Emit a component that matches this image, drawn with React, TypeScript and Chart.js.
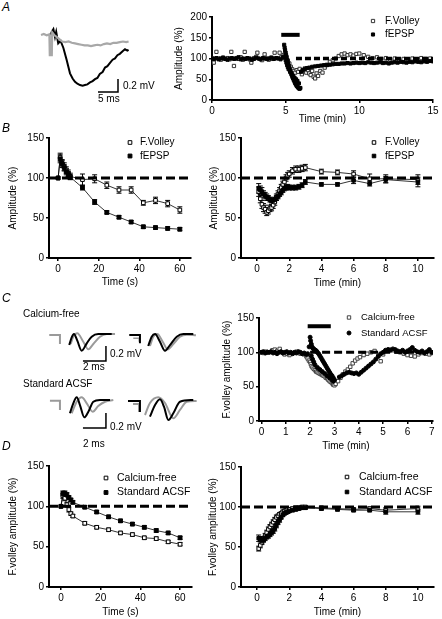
import React, { useEffect, useRef } from "react";
import { Chart, registerables } from "chart.js";
Chart.register(...registerables);

const FONT = '"Liberation Sans", Arial, Helvetica, sans-serif';

// ================= DATA =================
// Panel A (right): time (min) / amplitude (%)
const aVolleyT = [0.05,0.12,0.3,0.45,0.6,0.75,0.9,1.05,1.2,1.31,1.49,1.65,1.8,1.95,2.1,2.22,2.4,2.55,2.67,2.85,3.0,3.08,3.25,3.4,3.57,3.7,3.85,4.0,4.1,4.25,4.4,4.59,4.7,4.85,4.95,
  5.05,5.15,5.25,5.35,5.45,5.55,5.65,5.75,5.85,5.95,
  6.1,6.2,6.3,6.4,6.5,6.6,6.7,6.8,6.9,7.0,7.1,7.2,7.35,7.5,7.65,7.8,8.0,8.2,8.4,8.6,8.8,9.0,9.2,9.4,9.6,9.8,10.0,10.3,10.6,10.9,11.2,11.5,11.8,12.1,12.4,12.7,13.0,13.3,13.6,13.9,14.2,14.5,14.8];
const aVolleyY = [100,90,116,100,97,102,99,101,98,116,82,101,99,103,97,116,100,98,90,101,104,114,99,96,110,100,97,102,99,114,101,114,103,108,112,
  104,95,88,80,74,70,66,72,68,75,
  62,70,76,66,72,64,60,70,56,52,64,58,70,66,78,85,92,96,100,106,110,112,108,110,107,111,112,108,104,101,103,99,101,97,100,96,99,97,100,98,101,99,100];
const aEpspT = [0,0.15,0.3,0.45,0.6,0.75,0.9,1.05,1.2,1.35,1.5,1.65,1.8,1.95,2.1,2.25,2.4,2.55,2.7,2.85,3.0,3.15,3.3,3.45,3.6,3.75,3.9,4.05,4.2,4.35,4.5,4.65,4.8,
  4.85,4.9,4.93,4.96,5.0,5.03,5.06,5.1,5.13,5.16,5.2,5.25,5.3,5.35,5.4,5.45,5.5,5.55,5.6,5.65,5.7,5.75,5.8,5.85,5.9,5.95,6.0,
  5.0,5.05,5.1,5.15,5.2,5.3,5.4,5.5,5.6,5.7,5.8,5.9,
  6.05,6.15,6.3,6.45,6.6,6.8,7.0,7.2,7.4,7.6,7.8,8.0,8.2,8.4,8.6,8.8,9.0,9.2,9.4,9.6,9.8,10.0,10.2,10.4,10.6,10.8,11.0,11.2,11.4,11.6,11.8,12.0,12.2,12.4,12.6,12.8,13.0,13.2,13.4,13.6,13.8,14.0,14.2,14.4,14.6,14.8,15.0];
const aEpspY = [100,99,101,98,100,102,99,97,100,101,99,100,103,98,100,99,101,100,97,99,102,100,98,101,100,99,100,102,99,101,100,98,102,
  104,133,126,120,114,108,103,97,92,88,83,78,72,66,61,56,52,48,44,40,37,34,32,30,28,27,29,
  96,90,84,79,74,68,62,58,54,50,46,40,
  68,72,75,77,78,80,81,82,83,84,84,85,86,87,87,88,88,89,88,89,90,89,90,89,91,90,89,90,91,89,90,88,90,91,90,92,91,90,92,91,93,92,91,93,92,94,93];
const aRefX = [5.7, 15];
const aBarX = [4.7, 5.95];
const aBarLevel = 157;
const aXTicks = [0, 5, 10, 15];
const aYTicks = [0, 50, 100, 150, 200];

// Panel A (left) traces: [ms, mV]
const aTraceBlack = [[3.9,0],[4.2,0.05],[4.6,0.09],[5.0,-0.03],[5.3,0.05],[5.8,-0.13],[6.4,-0.09],[7.1,-0.2],[7.9,-0.38],[8.75,-0.59],[9.4,-0.67],[10.0,-0.72],[10.6,-0.75],[11.25,-0.77],[11.9,-0.78],[12.5,-0.77],[13.1,-0.76],[13.75,-0.73],[14.4,-0.71],[15.0,-0.68],[15.6,-0.66],[16.2,-0.6],[16.9,-0.57],[17.5,-0.5],[18.1,-0.48],[18.75,-0.43],[19.4,-0.38],[20.0,-0.36],[20.6,-0.31],[21.2,-0.29],[21.9,-0.25],[22.5,-0.22],[23.1,-0.24],[23.4,-0.23]];
const aTraceGray = [[1.5,0],[2.2,0.015],[2.9,-0.005],[3.6,0.01],[3.7,-0.31],[4.2,-0.31],[4.3,0.04],[4.8,0.0],[5.4,-0.03],[6.0,-0.06],[6.8,-0.1],[7.6,-0.11],[8.4,-0.1],[9.2,-0.12],[10.0,-0.13],[10.8,-0.14],[11.6,-0.15],[12.4,-0.16],[13.2,-0.16],[14.0,-0.17],[14.8,-0.16],[15.6,-0.15],[16.4,-0.16],[17.2,-0.14],[18.0,-0.13],[18.8,-0.14],[19.6,-0.12],[20.4,-0.12],[21.2,-0.11],[22.0,-0.1],[22.8,-0.11],[23.4,-0.1]];
const aScaleBar = [[15.75,-0.877],[20.75,-0.877],[20.75,-0.677]]; // 5 ms x 0.2 mV

// Panel B left: time (s)
const bLT = [0,1,2,3,4,5,6,12,18,24,30,36,42,48,54,60];
const bLVolley = [100,126,118,114,110,106,102,98,99,91,85,85,69,72,68,60];
const bLVolleyErr = [0,5,5,5,4,4,4,7,5,4,4,4,3,4,4,4];
const bLEpsp = [100,124,118,113,108,105,101,88,70,57,51,45,39,38,37,36];
const bLEpspErr = [0,5,4,4,4,3,3,3,3,2,2,2,2,2,2,2];
const bLRefX = [-4.5, 65.5];
const secTicks = [0, 20, 40, 60];
const pctTicks = [0, 50, 100, 150];

// Panel B right: time (min)
const bRT = [0.1,0.2,0.3,0.4,0.5,0.6,0.7,0.8,0.9,1.0,1.1,1.2,1.3,1.4,1.5,1.6,1.7,1.8,1.9,2.0,2.2,2.4,2.6,2.8,3.0,4,5,6,7,8,10];
const bRVolley = [83,74,67,63,61,57,59,62,63,66,70,76,80,84,88,92,95,100,103,105,109,111,111,112,113,108,107,105,99,99,98];
const bRVolleyErr = [6,5,5,5,5,4,4,4,4,4,4,4,4,4,4,4,4,4,4,4,4,4,4,4,4,3,3,4,6,5,6];
const bREpsp = [87,85,83,80,78,76,75,73,72,72,73,75,77,80,82,85,87,88,89,88,88,88,89,91,95,92,92,97,93,98,95];
const bREpspErr = [6,5,5,4,4,4,3,3,3,3,3,3,3,3,3,3,3,3,3,3,3,3,3,3,3,2,2,4,3,4,6];
const rRefX = [-1, 11];
const minTicks10 = [0, 2, 4, 6, 8, 10];

// Panel C right: time (min)
const cFreeT = [0.0,0.1,0.2,0.3,0.45,0.55,0.65,0.75,0.85,0.95,1.05,1.15,1.3,1.45,1.6,1.75,1.85,1.9,
  1.95,2.0,2.03,2.06,2.1,2.15,2.2,2.25,2.3,2.35,2.4,2.45,2.5,2.55,2.6,2.65,2.7,2.75,2.8,2.85,2.9,2.95,3.0,3.05,
  3.15,3.25,3.35,3.45,3.55,3.65,3.75,3.85,3.95,4.05,4.2,4.35,4.5,4.65,4.8,4.9,5.0,5.1,5.25,5.4,5.55,5.7,5.85,6.0,6.15,6.3,6.45,6.6,6.75,6.9,7.0];
const cFreeY = [100,99,101,100,103,104,102,105,100,97,98,96,99,101,98,97,94,91,
  88,86,83,80,78,76,74,72,71,70,69,68,67,66,65,63,62,60,58,57,55,53,52,54,
  58,63,68,72,75,79,84,88,91,93,96,98,100,102,95,87,97,102,104,103,101,100,98,96,95,94,97,99,98,97,99];
const cStdT = [0.0,0.08,0.16,0.24,0.32,0.4,0.48,0.56,0.64,0.72,0.8,0.88,0.96,1.04,1.12,1.2,1.28,1.36,1.44,1.52,1.6,1.68,1.76,1.84,1.9,
  1.96,2.0,2.02,2.05,2.08,2.11,2.14,2.18,2.22,2.26,2.3,2.35,2.4,2.45,2.5,2.55,2.6,2.65,2.7,2.75,2.8,2.85,2.9,2.95,3.0,
  2.05,2.1,2.15,2.2,2.3,2.4,2.5,2.6,2.7,2.8,2.9,2.95,
  3.2,3.3,3.4,3.5,3.6,3.7,3.8,3.9,4.0,4.1,4.2,4.3,4.4,4.5,4.6,4.7,4.8,4.9,5.0,5.1,5.2,5.3,5.4,5.5,5.6,5.7,5.8,5.9,6.0,6.1,6.2,6.3,6.4,6.5,6.6,6.7,6.8,6.9,7.0];
const cStdY = [100,101,99,100,100,101,99,100,98,100,101,99,100,101,99,100,98,100,99,101,100,98,99,97,98,
  108,122,117,112,108,106,105,104,103,102,100,98,95,92,89,86,83,80,77,74,71,68,66,63,60,
  95,90,86,82,78,75,72,69,66,63,60,58,
  64,66,68,70,71,70,69,70,68,71,74,77,80,83,86,90,94,98,100,103,104,103,105,104,102,101,103,100,102,104,107,103,101,100,102,99,101,104,100];
const cRefX = [2.0, 7.05];
const cBarX = [1.9, 2.85];
const cBarLevel = 138;
const cXTicks = [0, 1, 2, 3, 4, 5, 6, 7];

// Panel C left traces: [ms, mV]
const c1lGrayArt = [[0.37,-0.013],[1.3,-0.013],[1.3,-0.133]];
const c1lBlack = [[2.11,-0.147],[2.32,-0.044],[2.52,0],[2.81,-0.089],[3.19,-0.223],[3.63,-0.124],[4.06,-0.036],[4.63,0],[5.8,0]];
const c1lGray = [[2.23,-0.133],[2.46,-0.036],[2.81,0.009],[3.33,-0.103],[3.77,-0.204],[4.2,-0.133],[4.78,-0.036],[5.37,0],[6.09,0]];
const c1rBlackArt = [[0.37,-0.013],[1.3,-0.013],[1.3,-0.124]];
const c1rGrayArt = [[0.72,-0.057],[1.24,-0.057],[1.24,-0.103]];
const c1rBlack = [[2.02,-0.16],[2.32,-0.036],[2.61,0],[3.04,-0.103],[3.48,-0.223],[3.91,-0.147],[4.5,-0.036],[5.07,0],[5.94,0]];
const c1rGray = [[2.17,-0.16],[2.46,-0.036],[2.81,0],[3.28,-0.103],[3.71,-0.204],[4.2,-0.133],[4.78,-0.036],[5.37,-0.009],[6.17,-0.017]];
const c2lGrayArt = [[0.43,-0.009],[1.3,-0.009],[1.3,-0.133]];
const c2lBlack = [[2.17,-0.177],[2.46,-0.044],[2.76,0.036],[3.04,-0.067],[3.42,-0.231],[3.77,-0.156],[4.2,-0.023],[4.78,0],[5.65,0]];
const c2lGray = [[2.32,-0.177],[2.76,-0.023],[3.19,0.036],[3.63,-0.044],[4.15,-0.156],[4.63,-0.08],[5.22,-0.023],[5.94,0]];
const c2rBlackArt = [[0.26,-0.013],[1.3,-0.013],[1.3,-0.16]];
const c2rGrayArt = [[0.7,-0.053],[1.22,-0.053],[1.22,-0.16]];
const c2rBlack = [[2.17,-0.223],[2.61,-0.067],[3.04,0.009],[3.39,-0.089],[3.77,-0.267],[4.2,-0.177],[4.78,-0.023],[5.94,0]];
const c2rGray = [[1.74,-0.2],[2.17,-0.04],[2.9,0.036],[3.48,-0.04],[4.2,-0.244],[4.78,-0.133],[5.37,-0.023],[6.23,-0.013]];
const c1ScaleBar = [[3.3,-0.36],[5.3,-0.36],[5.3,-0.16]]; // 2 ms x 0.2 mV
const c2ScaleBar = [[3.3,-0.373],[5.3,-0.373],[5.3,-0.173]];

// Panel D left: time (s)
const dLT = [0,1,2,3,4,5,6,12,18,24,30,36,42,48,54,60];
const dLFree = [100,113,110,102,96,91,88,79,74,71,67,65,61,60,56,53];
const dLFreeErr = [0,3,3,3,3,2,2,2,2,2,2,2,2,2,2,2];
const dLStd = [100,116,116,114,111,108,105,99,93,87,82,78,74,70,67,61];
const dLStdErr = [0,3,3,3,2,2,2,2,2,2,2,2,2,2,2,2];
const dLRefX = [-6, 66];

// Panel D right: time (min)
const dRT = [0.1,0.2,0.3,0.4,0.5,0.6,0.7,0.8,0.9,1.0,1.1,1.2,1.3,1.4,1.5,1.6,1.7,1.8,1.9,2.0,2.2,2.4,2.6,2.8,3.0,4,5,6,7,8,10];
const dRFree = [48,52,56,60,64,68,72,75,78,81,84,87,89,91,92,94,95,96,97,97,98,99,99,100,100,99,98,97,98,96,98];
const dRFreeErr = [3,3,3,3,3,3,3,3,3,3,3,3,2,2,2,2,2,2,2,2,2,2,2,2,2,2,2,2,2,3,3];
const dRStd = [61,60,58,59,61,63,64,66,68,70,73,77,81,84,87,90,92,93,94,95,96,97,98,99,99,98,97,96,96,94,94];
const dRStdErr = [4,3,3,3,3,3,3,3,3,3,3,3,3,3,2,2,2,2,2,2,2,2,2,2,2,2,2,2,2,3,3];

// ================= HELPERS =================
const zip = (xs: number[], ys: number[]) => xs.map((x, i) => ({ x, y: ys[i] }));
const pairs = (p: number[][]) => p.map(([x, y]) => ({ x, y }));

const errorBarPlugin = {
  id: "errorBars",
  beforeDatasetsDraw(chart: any) {
    const { ctx } = chart;
    const xs = chart.scales.x, ys = chart.scales.y;
    chart.data.datasets.forEach((ds: any) => {
      if (!ds.errors) return;
      ctx.save();
      ctx.strokeStyle = "#000";
      ctx.lineWidth = 1;
      ds.data.forEach((p: any, j: number) => {
        const e = ds.errors[j];
        if (!e) return;
        const px = xs.getPixelForValue(p.x);
        const t = ys.getPixelForValue(p.y + e);
        const b = ys.getPixelForValue(p.y - e);
        ctx.beginPath();
        ctx.moveTo(px, t); ctx.lineTo(px, b);
        ctx.moveTo(px - 2.5, t); ctx.lineTo(px + 2.5, t);
        ctx.moveTo(px - 2.5, b); ctx.lineTo(px + 2.5, b);
        ctx.stroke();
      });
      ctx.restore();
    });
  },
};

const innerLegendPlugin = {
  id: "innerLegend",
  afterDraw(chart: any, _args: any, opts: any) {
    if (!opts || !opts.items) return;
    const ctx = chart.ctx;
    ctx.save();
    opts.items.forEach((it: any) => {
      const ds = chart.data.datasets[it.ds];
      const x = it.x - opts.offX, y = it.y - opts.offY;
      const r = ds.pointRadius;
      ctx.beginPath();
      if (ds.pointStyle === "circle") ctx.arc(x, y, r, 0, Math.PI * 2);
      else { const s = r * Math.SQRT1_2; ctx.rect(x - s, y - s, 2 * s, 2 * s); }
      ctx.fillStyle = ds.pointBackgroundColor;
      ctx.fill();
      ctx.lineWidth = ds.pointBorderWidth;
      ctx.strokeStyle = ds.pointBorderColor;
      ctx.stroke();
      ctx.fillStyle = "#000";
      ctx.font = `${opts.fontSize}px ${FONT}`;
      ctx.textBaseline = "middle";
      ctx.textAlign = "left";
      ctx.fillText(it.label, opts.textX - opts.offX, y);
    });
    ctx.restore();
  },
};

type Box = { left: number; top: number; width: number; height: number };
type Area = { left: number; top: number; right: number; bottom: number };

function markerDs(data: any[], style: string, filled: boolean, r: number, opts: any = {}) {
  return {
    data,
    showLine: false,
    pointStyle: style,
    pointRadius: r,
    pointBackgroundColor: filled ? "#000" : "#fff",
    pointBorderColor: opts.edge || "#000",
    pointBorderWidth: 1,
    borderColor: "#000",
    borderWidth: 0.8,
    ...opts,
  };
}

function refLine(xs: number[], level: number, dash: number[], width: number) {
  return {
    data: xs.map((x) => ({ x, y: level })),
    showLine: true,
    borderColor: "#000",
    borderWidth: width,
    borderDash: dash,
    pointRadius: 0,
  };
}

function axisConfig(p: {
  box: Box; area: Area; yTitleX: number; xTitleY: number;
  xr: number[]; yr: number[]; xTicks: number[]; yTicks: number[];
  xTitle: string; yTitle: string; datasets: any[]; legend: any;
}) {
  const { box, area } = p;
  const yW = area.left - box.left;
  const xH = box.top + box.height - area.bottom;
  const tickFont = { family: FONT, size: 10 };
  const gridOpt = { drawOnChartArea: false, drawTicks: true, tickLength: 3, color: "#000", lineWidth: 1.5 };
  const borderOpt = { display: true, color: "#000", width: 2 };
  return {
    type: "scatter",
    data: { datasets: p.datasets },
    plugins: [errorBarPlugin, innerLegendPlugin],
    options: {
      animation: false,
      responsive: false,
      events: [],
      layout: { padding: { left: 0, top: area.top - box.top, right: box.left + box.width - area.right, bottom: 0 } },
      plugins: {
        legend: { display: false },
        tooltip: { enabled: false },
        innerLegend: { ...p.legend, offX: box.left, offY: box.top },
      },
      scales: {
        x: {
          type: "linear",
          min: p.xr[0], max: p.xr[1],
          afterFit: (s: any) => { s.height = xH; },
          afterBuildTicks: (s: any) => { s.ticks = p.xTicks.map((v) => ({ value: v })); },
          grid: gridOpt, border: borderOpt,
          ticks: { color: "#000", font: tickFont, padding: 2, maxRotation: 0, autoSkip: false },
          title: { display: true, text: p.xTitle, color: "#000", font: tickFont, padding: { top: 0, bottom: box.top + box.height - p.xTitleY - 6 } },
        },
        y: {
          type: "linear",
          min: p.yr[0], max: p.yr[1],
          afterFit: (s: any) => { s.width = yW; },
          afterBuildTicks: (s: any) => { s.ticks = p.yTicks.map((v) => ({ value: v })); },
          grid: gridOpt, border: borderOpt,
          ticks: { color: "#000", font: tickFont, padding: 2, autoSkip: false },
          title: { display: true, text: p.yTitle, color: "#000", font: tickFont, padding: { top: p.yTitleX - box.left - 6, bottom: 0 } },
        },
      },
    },
  };
}

function traceLine(pts: number[][], color: string, width: number, smooth: boolean) {
  return {
    data: pairs(pts),
    showLine: true,
    borderColor: color,
    borderWidth: width,
    pointRadius: 0,
    cubicInterpolationMode: smooth ? "monotone" : "default",
    tension: 0,
    clip: false,
  };
}

function traceConfig(box: Box, baseline: number, pxPerMs: number, pxPerMv: number, datasets: any[]) {
  return {
    type: "scatter",
    data: { datasets },
    options: {
      animation: false,
      responsive: false,
      events: [],
      layout: { padding: 0 },
      plugins: { legend: { display: false }, tooltip: { enabled: false } },
      scales: {
        x: { type: "linear", display: false, min: 0, max: box.width / pxPerMs },
        y: { type: "linear", display: false, min: (baseline - box.top - box.height) / pxPerMv, max: (baseline - box.top) / pxPerMv },
      },
    },
  };
}

function ChartCanvas({ box, make }: { box: Box; make: () => any }) {
  const ref = useRef<HTMLCanvasElement>(null);
  useEffect(() => {
    const c = new Chart(ref.current as HTMLCanvasElement, make() as any);
    return () => c.destroy();
  }, []);
  return (
    <canvas
      ref={ref}
      width={box.width}
      height={box.height}
      style={{ position: "absolute", left: box.left, top: box.top, width: box.width, height: box.height }}
    />
  );
}

// ================= LAYOUT =================
const GRAY = "#9a9a9a";
const BLACK = "#000";

const boxA: Box = { left: 166, top: 5, width: 276, height: 125 };
const boxBL: Box = { left: 0, top: 128, width: 210, height: 162 };
const boxBR: Box = { left: 206, top: 128, width: 236, height: 162 };
const boxCR: Box = { left: 214, top: 306, width: 228, height: 146 };
const boxDL: Box = { left: 0, top: 455, width: 210, height: 164 };
const boxDR: Box = { left: 205, top: 455, width: 237, height: 164 };
const boxTA: Box = { left: 35, top: 22, width: 100, height: 75 };
const boxC1L: Box = { left: 45, top: 325, width: 75, height: 42 };
const boxC1R: Box = { left: 125, top: 325, width: 78, height: 30 };
const boxC2L: Box = { left: 45, top: 390, width: 75, height: 42 };
const boxC2R: Box = { left: 125, top: 390, width: 78, height: 35 };

const makeA = () => axisConfig({
  box: boxA, area: { left: 212, top: 17, right: 433, bottom: 100 }, yTitleX: 179, xTitleY: 119.5,
  xr: [0, 15], yr: [0, 200], xTicks: aXTicks, yTicks: aYTicks,
  xTitle: "Time (min)", yTitle: "Amplitude (%)",
  datasets: [
    refLine(aRefX, 100, [6, 3], 3.5),
    refLine(aBarX, aBarLevel, [], 4),
    markerDs(zip(aEpspT, aEpspY), "rect", true, 2.2),
    markerDs(zip(aVolleyT, aVolleyY), "rect", false, 2.3, { pointBorderColor: "#333" }),
  ],
  legend: { items: [{ ds: 3, label: "F.Volley", x: 373, y: 21 }, { ds: 2, label: "fEPSP", x: 373, y: 34.5 }], textX: 385, fontSize: 10 },
});

const makeBL = () => axisConfig({
  box: boxBL, area: { left: 49, top: 138, right: 191, bottom: 258 }, yTitleX: 13.5, xTitleY: 282,
  xr: [-4.5, 65.5], yr: [0, 150], xTicks: secTicks, yTicks: pctTicks,
  xTitle: "Time (s)", yTitle: "Amplitude (%)",
  datasets: [
    refLine(bLRefX, 100, [9, 4], 3),
    markerDs(zip(bLT, bLEpsp), "rect", true, 2.7, { showLine: true, errors: bLEpspErr }),
    markerDs(zip(bLT, bLVolley), "rect", false, 2.6, { showLine: true, errors: bLVolleyErr }),
  ],
  legend: { items: [{ ds: 2, label: "F.Volley", x: 130, y: 142.5 }, { ds: 1, label: "fEPSP", x: 130, y: 156 }], textX: 140, fontSize: 10 },
});

const makeBR = () => axisConfig({
  box: boxBR, area: { left: 241, top: 138, right: 434, bottom: 258 }, yTitleX: 214, xTitleY: 283,
  xr: [-1, 11], yr: [0, 150], xTicks: minTicks10, yTicks: pctTicks,
  xTitle: "Time (min)", yTitle: "Amplitude (%)",
  datasets: [
    refLine(rRefX, 100, [9, 4], 3),
    markerDs(zip(bRT, bREpsp), "rect", true, 2.5, { showLine: true, errors: bREpspErr }),
    markerDs(zip(bRT, bRVolley), "rect", false, 2.5, { showLine: true, errors: bRVolleyErr }),
  ],
  legend: { items: [{ ds: 2, label: "F.Volley", x: 374, y: 142.5 }, { ds: 1, label: "fEPSP", x: 374, y: 156 }], textX: 385, fontSize: 10 },
});

const makeCR = () => axisConfig({
  box: boxCR, area: { left: 259, top: 318, right: 433, bottom: 421 }, yTitleX: 227, xTitleY: 446,
  xr: [-0.1, 7.05], yr: [0, 150], xTicks: cXTicks, yTicks: pctTicks,
  xTitle: "Time (min)", yTitle: "F.volley amplitude (%)",
  datasets: [
    refLine(cRefX, 100, [8, 4], 3),
    refLine(cBarX, cBarLevel, [], 4),
    markerDs(zip(cStdT, cStdY), "circle", true, 2),
    markerDs(zip(cFreeT, cFreeY), "rect", false, 2.4, { pointBorderColor: "#444" }),
  ],
  legend: { items: [{ ds: 3, label: "Calcium-free", x: 349, y: 317.5 }, { ds: 2, label: "Standard ACSF", x: 349, y: 333 }], textX: 361, fontSize: 9.5 },
});

const makeDL = () => axisConfig({
  box: boxDL, area: { left: 49, top: 466, right: 192, bottom: 587 }, yTitleX: 13, xTitleY: 612,
  xr: [-6, 66], yr: [0, 150], xTicks: secTicks, yTicks: pctTicks,
  xTitle: "Time (s)", yTitle: "F.volley amplitude (%)",
  datasets: [
    refLine(dLRefX, 100, [9, 4], 3),
    markerDs(zip(dLT, dLStd), "rect", true, 2.7, { showLine: true, errors: dLStdErr }),
    markerDs(zip(dLT, dLFree), "rect", false, 2.6, { showLine: true, errors: dLFreeErr }),
  ],
  legend: { items: [{ ds: 2, label: "Calcium-free", x: 106, y: 478 }, { ds: 1, label: "Standard ACSF", x: 106, y: 492.5 }], textX: 117, fontSize: 10.5 },
});

const makeDR = () => axisConfig({
  box: boxDR, area: { left: 241, top: 467, right: 434, bottom: 587 }, yTitleX: 213, xTitleY: 612,
  xr: [-1, 11], yr: [0, 150], xTicks: minTicks10, yTicks: pctTicks,
  xTitle: "Time (min)", yTitle: "F.volley amplitude (%)",
  datasets: [
    refLine(rRefX, 100, [9, 4], 3),
    markerDs(zip(dRT, dRStd), "rect", true, 2.5, { showLine: true, errors: dRStdErr }),
    markerDs(zip(dRT, dRFree), "rect", false, 2.5, { showLine: true, errors: dRFreeErr }),
  ],
  legend: { items: [{ ds: 2, label: "Calcium-free", x: 347, y: 477 }, { ds: 1, label: "Standard ACSF", x: 347, y: 492 }], textX: 359, fontSize: 10.5 },
});

const makeTA = () => traceConfig(boxTA, 35, 4, 65, [
  traceLine(aScaleBar, BLACK, 1.5, false),
  traceLine(aTraceGray, "#a8a8a8", 2.2, false),
  traceLine(aTraceBlack, BLACK, 2, false),
]);
const makeC1L = () => traceConfig(boxC1L, 334, 11.5, 75, [
  traceLine(c1ScaleBar, BLACK, 1.5, false),
  traceLine(c1lBlack, BLACK, 2, true),
  traceLine(c1lGray, GRAY, 2, true),
  traceLine(c1lGrayArt, GRAY, 2, false),
]);
const makeC1R = () => traceConfig(boxC1R, 334, 11.5, 75, [
  traceLine(c1rBlack, BLACK, 2, true),
  traceLine(c1rGray, GRAY, 2, true),
  traceLine(c1rBlackArt, BLACK, 2, false),
  traceLine(c1rGrayArt, GRAY, 1.5, false),
]);
const makeC2L = () => traceConfig(boxC2L, 400, 11.5, 75, [
  traceLine(c2ScaleBar, BLACK, 1.5, false),
  traceLine(c2lBlack, BLACK, 2, true),
  traceLine(c2lGray, GRAY, 2, true),
  traceLine(c2lGrayArt, GRAY, 2, false),
]);
const makeC2R = () => traceConfig(boxC2R, 400, 11.5, 75, [
  traceLine(c2rBlack, BLACK, 2, true),
  traceLine(c2rGray, GRAY, 2, true),
  traceLine(c2rBlackArt, BLACK, 2, false),
  traceLine(c2rGrayArt, GRAY, 2, false),
]);

function Label({ x, y, text, size = 10, italic = false }: { x: number; y: number; text: string; size?: number; italic?: boolean }) {
  return (
    <div style={{ position: "absolute", left: x, top: y, fontSize: size, lineHeight: `${size}px`, fontStyle: italic ? "italic" : "normal", whiteSpace: "nowrap", color: "#000", fontFamily: FONT }}>
      {text}
    </div>
  );
}

export default function App() {
  return (
    <div style={{ position: "absolute", left: 0, top: 0, width: 442, height: 619, background: "#fff", overflow: "hidden", fontFamily: FONT }}>
      <ChartCanvas box={boxA} make={makeA} />
      <ChartCanvas box={boxBL} make={makeBL} />
      <ChartCanvas box={boxBR} make={makeBR} />
      <ChartCanvas box={boxCR} make={makeCR} />
      <ChartCanvas box={boxDL} make={makeDL} />
      <ChartCanvas box={boxDR} make={makeDR} />
      <ChartCanvas box={boxTA} make={makeTA} />
      <ChartCanvas box={boxC1L} make={makeC1L} />
      <ChartCanvas box={boxC1R} make={makeC1R} />
      <ChartCanvas box={boxC2L} make={makeC2L} />
      <ChartCanvas box={boxC2R} make={makeC2R} />

      <Label x={2} y={0.5} text="A" size={12} italic />
      <Label x={2} y={121.5} text="B" size={12} italic />
      <Label x={2} y={291.5} text="C" size={12} italic />
      <Label x={2} y={439.5} text="D" size={12} italic />

      <Label x={123} y={80.7} text="0.2 mV" />
      <Label x={98} y={93.7} text="5 ms" />

      <Label x={23} y={308.7} text="Calcium-free" />
      <Label x={110} y={348.7} text="0.2 mV" />
      <Label x={83} y={361.7} text="2 ms" />
      <Label x={23} y={378.7} text="Standard ACSF" />
      <Label x={110} y={421.7} text="0.2 mV" />
      <Label x={83} y={438.7} text="2 ms" />
    </div>
  );
}
